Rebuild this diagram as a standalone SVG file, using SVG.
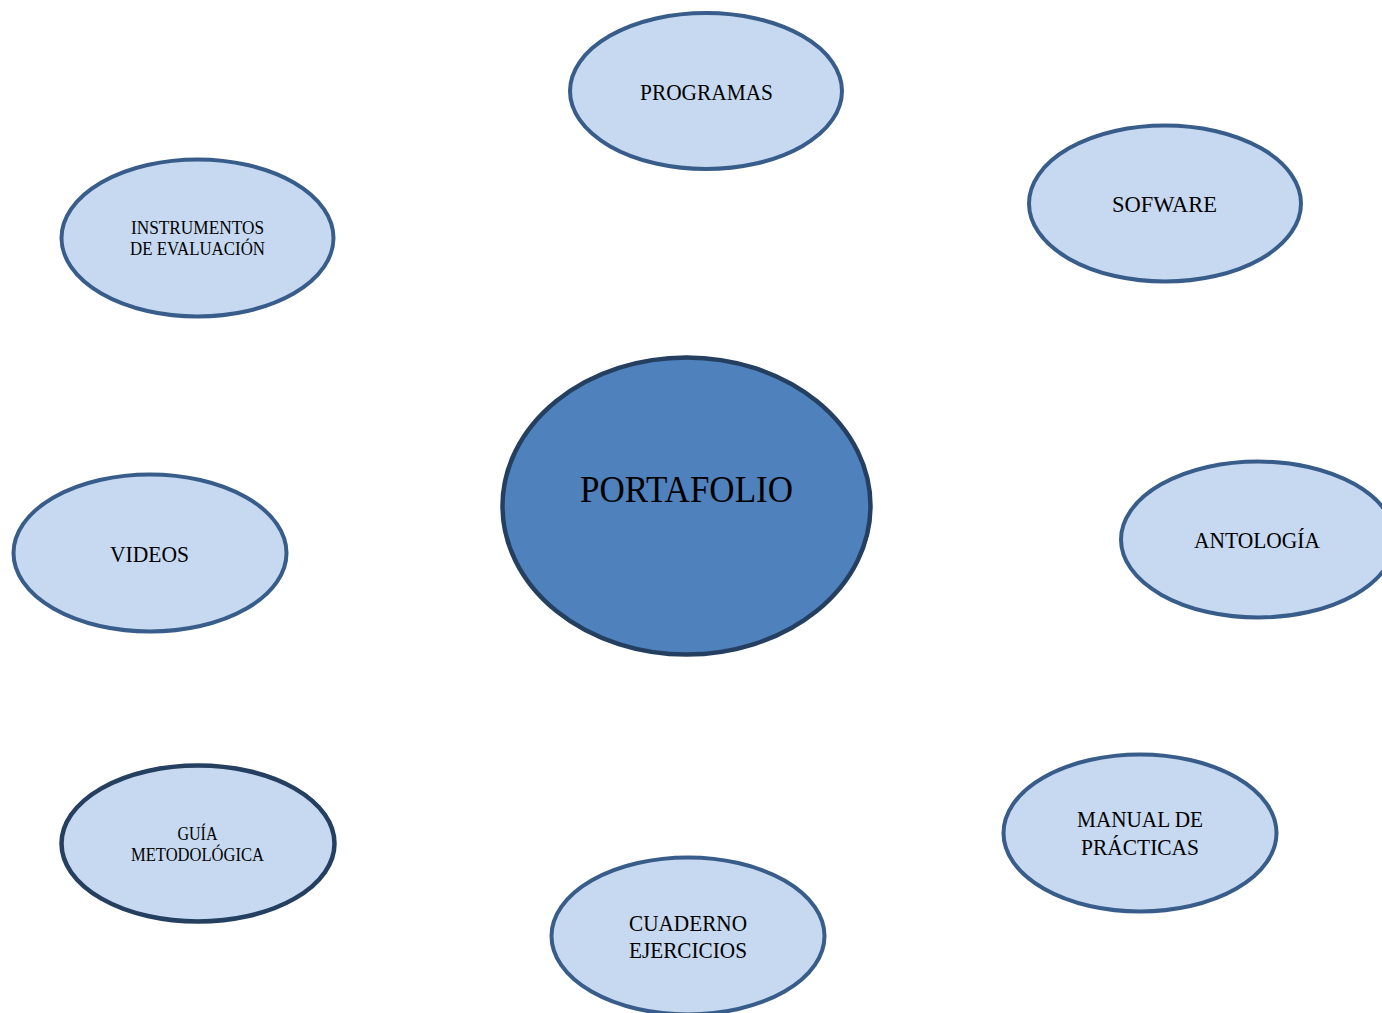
<svg xmlns="http://www.w3.org/2000/svg" width="1382" height="1013" viewBox="0 0 1382 1013">
<style>
.n{fill:#c6d9f1;stroke:#385d8a;stroke-width:4}
.d{fill:#c6d9f1;stroke:#243f60;stroke-width:4.5}
.c{fill:#4f81bd;stroke:#243f60;stroke-width:4.5}
text{font-family:"Liberation Serif","DejaVu Serif",serif;fill:#000;text-anchor:middle}
.m{font-size:24px}
.s{font-size:19px}
.l{font-size:37px}
</style>
<rect width="1382" height="1013" fill="#fff"/>
<g id="connectors"></g>
<g id="programas"><ellipse class="n" cx="706" cy="91" rx="136" ry="78"/><text class="m" x="706.5" y="100" textLength="133" lengthAdjust="spacingAndGlyphs">PROGRAMAS</text></g>
<g id="sofware"><ellipse class="n" cx="1165" cy="203.5" rx="136" ry="78"/><text class="m" x="1164.5" y="212" textLength="105" lengthAdjust="spacingAndGlyphs">SOFWARE</text></g>
<g id="instrumentos"><ellipse class="n" cx="197.5" cy="238" rx="136" ry="78.5"/><text class="s" x="197.5" y="234" textLength="133" lengthAdjust="spacingAndGlyphs">INSTRUMENTOS</text><text class="s" x="197.5" y="255" textLength="135" lengthAdjust="spacingAndGlyphs">DE EVALUACIÓN</text></g>
<g id="portafolio"><ellipse class="c" cx="686.5" cy="506" rx="184" ry="148.5"/><text class="l" x="686.5" y="502" textLength="213" lengthAdjust="spacingAndGlyphs">PORTAFOLIO</text></g>
<g id="videos"><ellipse class="n" cx="150" cy="553" rx="136.5" ry="78.5"/><text class="m" x="149.5" y="562" textLength="79" lengthAdjust="spacingAndGlyphs">VIDEOS</text></g>
<g id="antologia"><ellipse class="n" cx="1258" cy="539.5" rx="137" ry="78"/><text class="m" x="1257" y="548" textLength="126" lengthAdjust="spacingAndGlyphs">ANTOLOGÍA</text></g>
<g id="guia"><ellipse class="d" cx="198" cy="843.5" rx="136.5" ry="78"/><text class="s" x="197.5" y="840" textLength="40" lengthAdjust="spacingAndGlyphs">GUÍA</text><text class="s" x="197.5" y="861" textLength="133" lengthAdjust="spacingAndGlyphs">METODOLÓGICA</text></g>
<g id="manual"><ellipse class="n" cx="1140" cy="833" rx="136.5" ry="78.5"/><text class="m" x="1140" y="827" textLength="126" lengthAdjust="spacingAndGlyphs">MANUAL DE</text><text class="m" x="1140" y="855" textLength="118" lengthAdjust="spacingAndGlyphs">PRÁCTICAS</text></g>
<g id="cuaderno"><ellipse class="n" cx="688" cy="936" rx="136.5" ry="78.5"/><text class="m" x="688" y="931" textLength="118" lengthAdjust="spacingAndGlyphs">CUADERNO</text><text class="m" x="688" y="958" textLength="118" lengthAdjust="spacingAndGlyphs">EJERCICIOS</text></g>
</svg>
